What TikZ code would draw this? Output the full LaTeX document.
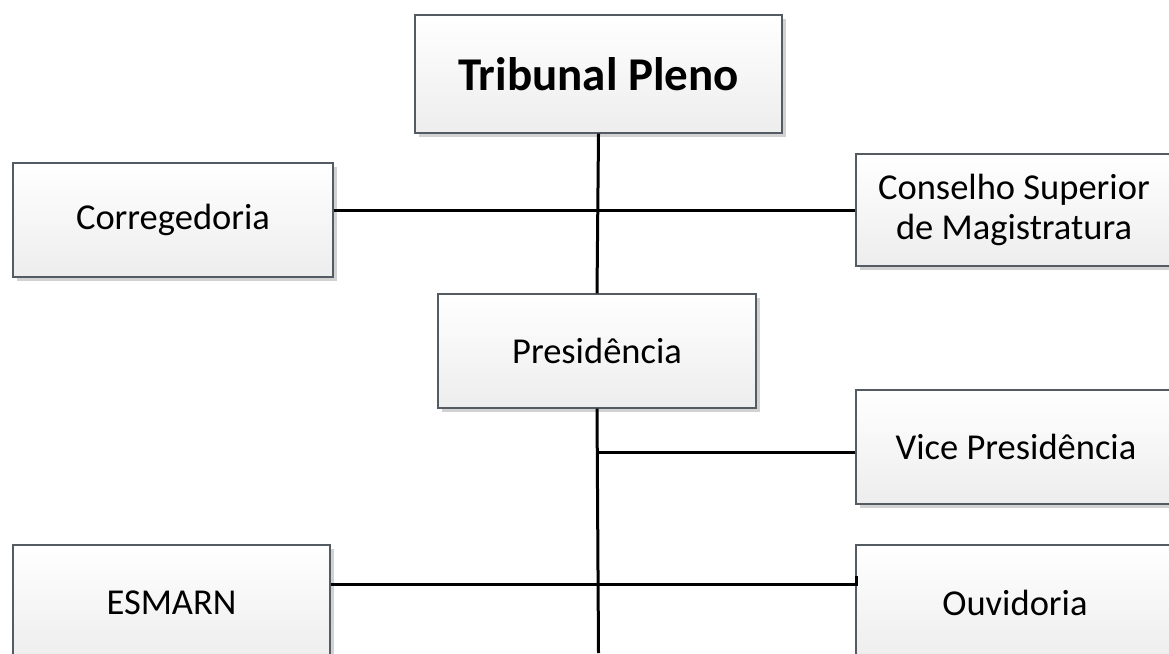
\documentclass[tikz,border=0pt]{standalone}
\usepackage{fontspec}
\setmainfont{Carlito}
\usetikzlibrary{shadows}
\definecolor{boxline}{HTML}{555B62}
\definecolor{boxbottom}{HTML}{EDEDED}
\definecolor{shadowgray}{HTML}{D2D2D2}
\begin{document}
\begin{tikzpicture}[x=1pt,y=-1pt,
  orgbox/.style={draw=boxline, line width=1.4pt, inner sep=0pt,
    top color=white, bottom color=boxbottom, align=center,
    font=\fontsize{36.5}{40}\selectfont,
    drop shadow={shadow xshift=3.5pt, shadow yshift=-3.5pt, fill=shadowgray, opacity=1}},
  link/.style={line width=3pt, black}]
\useasboundingbox (0,0) rectangle (1169,653);
\clip (0,0) rectangle (1169,653);
% nodes
\node[orgbox, minimum width=367pt, minimum height=118pt,
  font=\fontsize{47}{50}\selectfont\bfseries] (pleno) at (598.5,74) {Tribunal Pleno};
\node[orgbox, minimum width=320pt, minimum height=114pt] (corr) at (173,220) {Corregedoria};
\node[orgbox, minimum width=316pt, minimum height=112pt] (cons) at (1014,210) {Conselho Superior\\de Magistratura};
\node[orgbox, minimum width=318pt, minimum height=114pt] (pres) at (597,351) {Presidência};
\node[orgbox, minimum width=320pt, minimum height=114pt] (vice) at (1016,447) {Vice Presidência};
\node[orgbox, minimum width=317pt, minimum height=116pt] (esm) at (171.5,603) {ESMARN};
\node[orgbox, minimum width=318pt, minimum height=116pt] (ouv) at (1015,603) {Ouvidoria};
% coordinates
\coordinate (bottom) at (598.5,653);
\coordinate (ouvtick) at (856.5,576);
\coordinate (ouvjoin) at (856.5,584);
% connectors
\draw[link] (pleno.south) -- (pres.north);
\draw[link] (pres.south) -- (bottom);
\draw[link] (corr.east |- cons.west) -- (cons.west);
\draw[link] (vice.west |- 0,452) -- (pres.south |- 0,452);
\draw[link] (esm.east |- ouvjoin) -- (ouvjoin) -- (ouvtick);
\end{tikzpicture}
\end{document}
